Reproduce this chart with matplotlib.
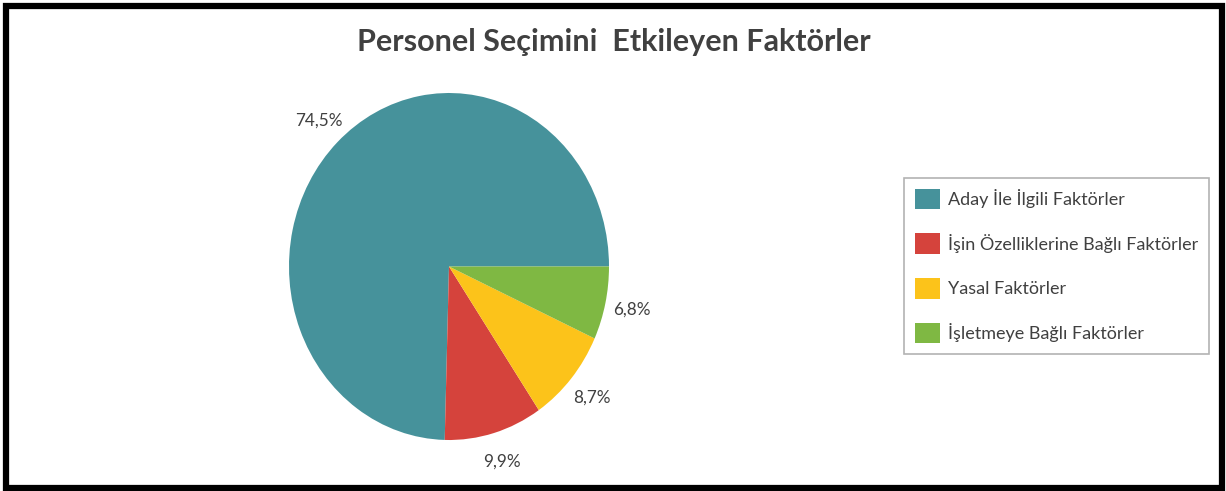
import matplotlib.pyplot as plt
from matplotlib.patches import Rectangle

plt.rcParams['font.family'] = ['Lato', 'DejaVu Sans']

title = "Personel Seçimini  Etkileyen Faktörler"
categories = ["Aday İle İlgili Faktörler",
              "İşin Özelliklerine Bağlı Faktörler",
              "Yasal Faktörler",
              "İşletmeye Bağlı Faktörler"]
values = [74.5, 9.9, 8.7, 6.8]
colors = ["#46929B", "#D5433C", "#FCC31A", "#7FB843"]
text_color = "#404040"

W, H = 1226, 491
fig = plt.figure(figsize=(W / 100, H / 100), dpi=100)

# pie area in pixels: x 289..609, y 93..440 (slightly taller than wide)
ax = fig.add_axes([289 / W, 1 - 440 / H, 320 / W, 347 / H])
labels = [f"{v:.1f}%".replace(".", ",") for v in values]
wedges, texts = ax.pie(values, colors=colors, startangle=0, counterclock=True,
                       labels=labels, labeldistance=1.17,
                       textprops=dict(color=text_color, fontsize=12.3))
for t in texts:
    t.set_ha("center")
    t.set_va("center")
ax.set_aspect("auto")
ax.set_xlim(-1, 1)
ax.set_ylim(-1, 1)

fig.text(614 / W, 1 - 42 / H, title, ha="center", va="center",
         fontsize=22, fontweight="bold", color=text_color)

leg = fig.legend(wedges, categories, loc="center left",
                 bbox_to_anchor=(904 / W, 1 - 266 / H), borderaxespad=0,
                 frameon=True, fancybox=False, edgecolor="#A0A0A0",
                 fontsize=13, labelcolor=text_color,
                 handlelength=1.37, handleheight=1.37, handletextpad=0.45,
                 labelspacing=1.33, borderpad=0.6)
leg.get_frame().set_linewidth(1.2)

fig.patches.append(Rectangle((6 / W, 1 - 487.5 / H), 1215.5 / W, 481.5 / H,
                             transform=fig.transFigure, fill=False,
                             edgecolor="black", linewidth=4.5))

fig.savefig("out.png", dpi=100)
